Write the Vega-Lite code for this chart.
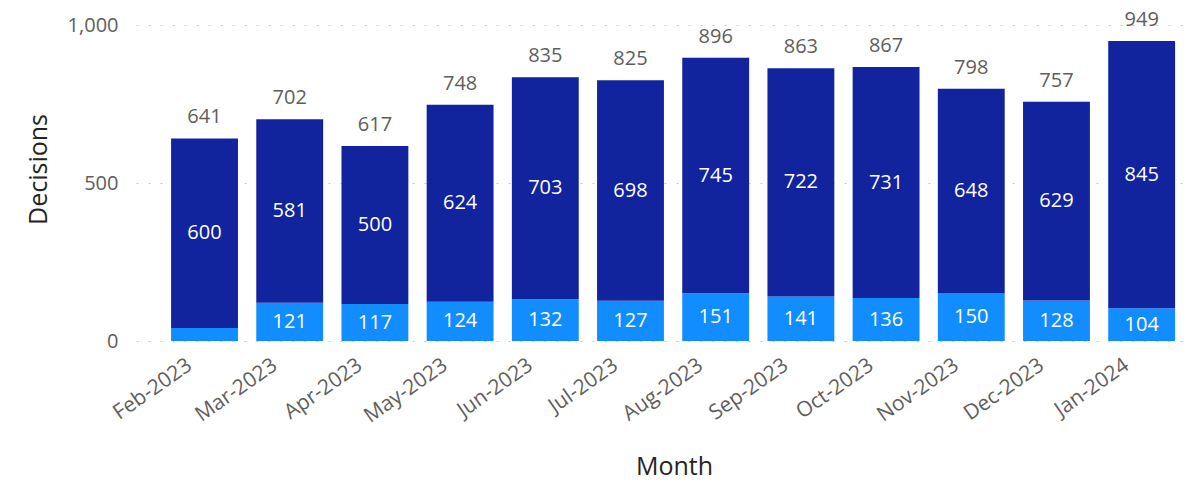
{
  "$schema": "https://vega.github.io/schema/vega-lite/v6.json",
  "width": 1049,
  "height": 316,
  "autosize": {"type": "none"},
  "padding": {"left": 136, "top": 25, "right": 4, "bottom": 142},
  "background": "white",
  "config": {
    "view": {"stroke": null},
    "font": "Open Sans"
  },
  "data": {
    "values": [
      {"month": "Feb-2023", "segment": "Light", "value": 41},
      {"month": "Feb-2023", "segment": "Dark", "value": 600},
      {"month": "Mar-2023", "segment": "Light", "value": 121},
      {"month": "Mar-2023", "segment": "Dark", "value": 581},
      {"month": "Apr-2023", "segment": "Light", "value": 117},
      {"month": "Apr-2023", "segment": "Dark", "value": 500},
      {"month": "May-2023", "segment": "Light", "value": 124},
      {"month": "May-2023", "segment": "Dark", "value": 624},
      {"month": "Jun-2023", "segment": "Light", "value": 132},
      {"month": "Jun-2023", "segment": "Dark", "value": 703},
      {"month": "Jul-2023", "segment": "Light", "value": 127},
      {"month": "Jul-2023", "segment": "Dark", "value": 698},
      {"month": "Aug-2023", "segment": "Light", "value": 151},
      {"month": "Aug-2023", "segment": "Dark", "value": 745},
      {"month": "Sep-2023", "segment": "Light", "value": 141},
      {"month": "Sep-2023", "segment": "Dark", "value": 722},
      {"month": "Oct-2023", "segment": "Light", "value": 136},
      {"month": "Oct-2023", "segment": "Dark", "value": 731},
      {"month": "Nov-2023", "segment": "Light", "value": 150},
      {"month": "Nov-2023", "segment": "Dark", "value": 648},
      {"month": "Dec-2023", "segment": "Light", "value": 128},
      {"month": "Dec-2023", "segment": "Dark", "value": 629},
      {"month": "Jan-2024", "segment": "Light", "value": 104},
      {"month": "Jan-2024", "segment": "Dark", "value": 845}
    ]
  },
  "transform": [
    {"stack": "value", "groupby": ["month"], "sort": [{"field": "segment", "order": "descending"}], "as": ["v0", "v1"]}
  ],
  "encoding": {
    "x": {
      "field": "month",
      "type": "ordinal",
      "sort": null,
      "scale": {"paddingInner": 0.215, "paddingOuter": 0.264, "align": 0.78},
      "axis": {
        "title": "Month",
        "titleFont": "Open Sans",
        "titleFontSize": 25,
        "titleFontWeight": 500,
        "titleColor": "#252423",
        "titleX": 538,
        "titleY": 125,
        "titleAlign": "center",
        "titleBaseline": "middle",
        "labelAngle": -35,
        "labelAlign": "right",
        "labelBaseline": "top",
        "labelFontSize": 21,
        "labelColor": "#605E5C",
        "labelPadding": 13,
        "labelOffset": -21,
        "ticks": false,
        "domain": false
      }
    }
  },
  "layer": [
    {
      "mark": {"type": "bar"},
      "encoding": {
        "y": {
          "field": "v0",
          "type": "quantitative",
          "scale": {"domain": [0, 1000], "nice": false},
          "axis": {
            "title": "Decisions",
            "titleFont": "Open Sans",
            "titleFontSize": 25,
            "titleFontWeight": 500,
            "titleColor": "#252423",
            "titleX": -98,
            "titleY": 144,
            "titleAlign": "center",
            "titleBaseline": "middle",
            "titleAngle": -90,
            "values": [0, 500, 1000],
            "format": ",d",
            "labelFontSize": 20,
            "labelColor": "#605E5C",
            "labelPadding": 18,
            "ticks": false,
            "domain": false,
            "grid": true,
            "gridColor": "#C8C6C4",
            "gridDash": [2, 10],
            "gridWidth": 1
          }
        },
        "y2": {"field": "v1"},
        "color": {
          "field": "segment",
          "type": "nominal",
          "scale": {"domain": ["Light", "Dark"], "range": ["#118DFF", "#12239E"]},
          "legend": null
        }
      }
    },
    {
      "transform": [
        {"filter": "datum.value >= 60"},
        {"fold": ["v0", "v1"], "as": ["edge", "pos"]},
        {"aggregate": [{"op": "mean", "field": "pos", "as": "mid"}, {"op": "max", "field": "value", "as": "label"}], "groupby": ["month", "segment"]}
      ],
      "mark": {"type": "text", "color": "white", "fontSize": 20, "font": "Open Sans", "baseline": "middle"},
      "encoding": {
        "y": {"field": "mid", "type": "quantitative"},
        "text": {"field": "label", "type": "quantitative"}
      }
    },
    {
      "transform": [{"aggregate": [{"op": "sum", "field": "value", "as": "total"}], "groupby": ["month"]}],
      "mark": {"type": "text", "color": "#605E5C", "fontSize": 20, "font": "Open Sans", "baseline": "bottom", "dy": -11},
      "encoding": {
        "y": {"field": "total", "type": "quantitative"},
        "text": {"field": "total", "type": "quantitative"}
      }
    }
  ]
}
